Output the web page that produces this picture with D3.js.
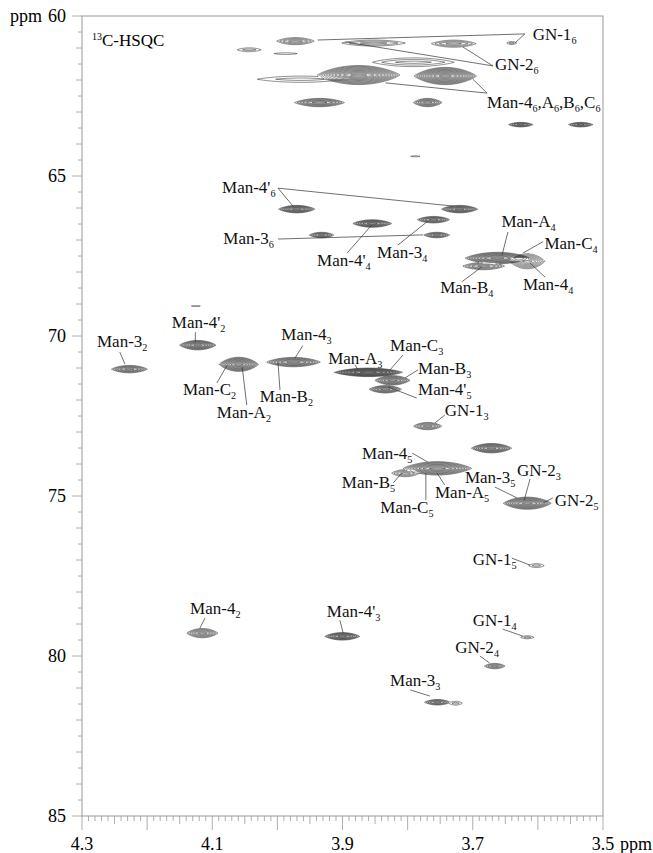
<!DOCTYPE html>
<html>
<head>
<meta charset="utf-8">
<script src="https://cdn.jsdelivr.net/npm/d3@7"></script>
<style>
  body { margin:0; background:#fff; }
</style>
</head>
<body>
<div id="chart"></div>
<script>
// peaks: 1H shift, 13C shift, half width (ppm), half height (ppm), number of contour rings
var peakH     = [4.044,3.988,3.973,3.853,3.730,3.641,3.876,3.743,3.792,3.965,3.936,3.770,3.627,3.535,3.789,
                 3.971,3.721,3.855,3.761,3.933,3.756,3.663,3.617,3.684,4.126,4.123,4.228,4.060,3.976,3.861,
                 3.824,3.835,3.770,3.672,3.755,3.804,3.617,3.603,4.116,3.901,3.617,3.667,3.755,3.727];
var peakC     = [61.05,61.17,60.78,60.84,60.86,60.84,61.84,61.87,61.44,61.97,62.70,62.70,63.39,63.39,64.38,
                 66.03,66.03,66.48,66.36,66.84,66.84,67.56,67.66,67.81,69.06,70.28,71.03,70.88,70.81,71.13,
                 71.38,71.66,72.81,73.50,74.13,74.28,75.22,77.17,79.28,79.38,79.41,80.31,81.44,81.47];
var peakWH    = [0.0215,0.026,0.031,0.054,0.037,0.009,0.065,0.049,0.069,0.077,0.040,0.023,0.020,0.020,0.011,
                 0.029,0.029,0.031,0.026,0.020,0.021,0.051,0.028,0.034,0.011,0.029,0.029,0.031,0.043,0.054,
                 0.028,0.026,0.023,0.032,0.054,0.023,0.038,0.014,0.025,0.028,0.012,0.017,0.021,0.012];
var peakWC    = [0.078,0.047,0.125,0.11,0.125,0.06,0.31,0.28,0.16,0.125,0.14,0.14,0.078,0.078,0.03,
                 0.125,0.125,0.125,0.11,0.094,0.094,0.19,0.25,0.125,0.03,0.156,0.125,0.23,0.156,0.14,
                 0.156,0.125,0.125,0.156,0.22,0.125,0.20,0.078,0.156,0.125,0.06,0.094,0.094,0.078];
var peakRings = [2,1,4,3,4,2,11,11,3,2,6,6,5,5,1,
                 7,7,7,6,5,5,9,7,5,1,8,6,10,7,9,
                 7,6,5,8,9,4,9,2,6,7,2,4,5,2];

// assignments: "_x" = subscript x; position = text start / baseline
var labelText = ["GN-1_6","GN-2_6","Man-4_6,A_6,B_6,C_6","Man-4'_6","Man-3_6","Man-4'_4","Man-3_4","Man-A_4",
                 "Man-C_4","Man-4_4","Man-B_4","Man-4'_2","Man-3_2","Man-C_2","Man-A_2","Man-4_3","Man-B_2",
                 "Man-A_3","Man-C_3","Man-B_3","Man-4'_5","GN-1_3","Man-4_5","Man-B_5","Man-C_5","Man-A_5",
                 "Man-3_5","GN-2_3","GN-2_5","GN-1_5","GN-1_4","Man-4'_3","Man-4_2","GN-2_4","Man-3_3"];
var labelH    = [3.608,3.666,3.678,4.085,4.083,3.939,3.847,3.656,3.590,3.623,3.750,4.162,4.277,4.145,4.093,
                 3.994,4.027,3.922,3.827,3.784,3.784,3.743,3.870,3.901,3.842,3.758,3.712,3.632,3.574,3.700,
                 3.700,3.924,4.134,3.727,3.827];
var labelC    = [60.75,61.69,62.88,65.53,67.13,67.81,67.56,66.60,67.27,68.56,68.66,69.75,70.34,71.84,72.56,
                 70.12,72.06,70.86,70.47,71.19,71.84,72.50,73.84,74.75,75.53,75.06,74.59,74.38,75.31,77.16,
                 79.06,78.78,78.69,79.91,80.94];

// leader lines from label to peak
var leadH1 = [3.620,3.620,3.669,3.669,3.678,3.678,3.999,3.999,3.999,3.893,3.815,3.646,3.592,3.589,3.717,4.126,
              4.242,4.093,4.047,3.961,3.996,3.881,3.807,3.784,3.786,3.743,3.793,3.822,3.772,3.743,3.666,3.612,
              3.577,3.640,3.654,3.904,4.111,3.689,3.796];
var leadC1 = [60.56,60.56,61.56,61.56,62.41,62.41,65.38,65.38,66.97,67.41,67.16,66.75,67.05,68.16,68.31,69.88,
              70.50,71.47,72.16,70.30,71.69,70.90,70.59,71.06,71.94,72.47,73.66,74.59,75.13,74.66,74.72,74.47,
              75.06,76.94,79.16,78.88,78.81,80.00,81.06];
var leadH2 = [3.635,3.938,3.715,3.896,3.700,3.834,3.976,3.730,3.776,3.855,3.769,3.655,3.623,3.612,3.686,4.126,
              4.234,4.077,4.054,3.973,3.999,3.876,3.827,3.804,3.830,3.758,3.769,3.809,3.772,3.755,3.632,3.621,
              3.592,3.612,3.623,3.899,4.119,3.674,3.766];
var leadC2 = [60.84,60.75,60.97,60.81,61.97,62.09,65.94,65.94,66.84,66.53,66.41,67.47,67.41,67.72,67.84,70.19,
              70.88,70.91,70.97,70.69,70.84,71.06,71.06,71.31,71.59,72.72,73.94,74.28,74.28,74.28,75.06,75.13,
              75.22,77.16,79.38,79.28,79.13,80.22,81.25];

var xTickLabels = [4.3,4.1,3.9,3.7,3.5];
var yTickLabels = [60,65,70,75,80,85];

var W = 653, H = 853;
var margin = {top:16, right:50, bottom:37, left:82};
var plotW = W - margin.left - margin.right;
var plotH = H - margin.top - margin.bottom;
var serif = "'Liberation Serif', 'Times New Roman', Times, serif";

var svg = d3.select("#chart").append("svg")
  .attr("width",W).attr("height",H)
  .attr("font-family",serif)
  .style("font-family",serif);

var x = d3.scaleLinear().domain([4.3,3.5]).range([margin.left, margin.left+plotW]);
var y = d3.scaleLinear().domain([60,85]).range([margin.top, margin.top+plotH]);

//......................... contour grid ............................
var nx = 521, ny = 2400;
var stepH = 0.8/(nx-1), stepC = 25/(ny-1);
var grid = new Float64Array(nx*ny);

peakH.forEach(function(h,k){
  var c = peakC[k], wh = peakWH[k], wc = peakWC[k], n = peakRings[k];
  var i0 = Math.max(0, Math.floor((4.3-(h+wh))/stepH)), i1 = Math.min(nx-1, Math.ceil((4.3-(h-wh))/stepH));
  var j0 = Math.max(0, Math.floor((c-wc-60)/stepC)),    j1 = Math.min(ny-1, Math.ceil((c+wc-60)/stepC));
  for (var j=j0;j<=j1;j++){
    var dy = Math.abs((60 + j*stepC) - c)/wc;
    for (var i=i0;i<=i1;i++){
      var dx = ((4.3 - i*stepH) - h)/wh;
      var s = dx*dx + Math.pow(dy,1.15);
      if (s < 1) grid[j*nx+i] += n*(1-s);
    }
  }
});

var thresholds = d3.range(0.5, 26, 1);
var contours = d3.contours().size([nx,ny]).thresholds(thresholds)(grid);

var toPlot = d3.geoTransform({
  point: function(gx,gy){ this.stream.point(x(4.3 - gx*stepH), y(60 + gy*stepC)); }
});
var path = d3.geoPath(toPlot);

svg.append("defs").append("clipPath").attr("id","clip")
  .append("rect").attr("x",margin.left).attr("y",margin.top).attr("width",plotW).attr("height",plotH);

svg.append("g")
  .attr("class","contours")
  .attr("clip-path","url(#clip)")
  .selectAll("path")
  .data(contours)
  .enter()
  .append("path")
  .attr("d",path)
  .attr("fill","none")
  .attr("stroke","#000")
  .attr("stroke-width",0.45);

//......................... leaders + labels ............................
svg.append("g").selectAll("line")
  .data(leadH1)
  .enter()
  .append("line")
  .attr("x1",function(d){return x(d)})
  .attr("y1",function(d,i){return y(leadC1[i])})
  .attr("x2",function(d,i){return x(leadH2[i])})
  .attr("y2",function(d,i){return y(leadC2[i])})
  .attr("stroke","#333")
  .attr("stroke-width",0.7);

function writeLabel(sel, str, size){
  var parts = str.split("_");
  sel.append("tspan").text(parts[0]);
  parts.slice(1).forEach(function(p){
    sel.append("tspan").attr("dy",4).attr("font-size",size*0.6).text(p[0]);
    sel.append("tspan").attr("dy",-4).text(p.slice(1));
  });
}

svg.append("g").selectAll("text")
  .data(labelText)
  .enter()
  .append("text")
  .attr("x",function(d,i){return x(labelH[i])})
  .attr("y",function(d,i){return y(labelC[i])})
  .attr("font-size",17)
  .attr("fill","#111")
  .each(function(d){ writeLabel(d3.select(this), d, 17); });

var title = svg.append("text").attr("x",margin.left+10).attr("y",margin.top+30).attr("font-size",17);
title.append("tspan").attr("font-size",10).attr("dy",-6).text("13");
title.append("tspan").attr("dy",6).text("C-HSQC");

//......................... frame + axes ............................
var axisColor = "#999";
svg.append("rect")
  .attr("x",margin.left).attr("y",margin.top).attr("width",plotW).attr("height",plotH)
  .attr("fill","none").attr("stroke",axisColor).attr("stroke-width",1);

var xt = svg.append("g");
d3.range(0,81).forEach(function(k){
  var v = 4.3 - k*0.01;
  var len = k%10==0 ? 14 : (k%5==0 ? 8 : 5);
  xt.append("line")
    .attr("x1",x(v)).attr("x2",x(v))
    .attr("y1",margin.top+plotH).attr("y2",margin.top+plotH+len)
    .attr("stroke",axisColor).attr("stroke-width",0.8);
});
xt.selectAll("text")
  .data(xTickLabels)
  .enter()
  .append("text")
  .attr("x",function(d){return x(d)})
  .attr("y",H-3)
  .attr("text-anchor","middle")
  .attr("font-size",18)
  .text(function(d){return d3.format(".1f")(d)});
svg.append("text").attr("x",x(3.5)+17).attr("y",H-3).attr("font-size",18).text("ppm");

var yt = svg.append("g");
d3.range(0,51).forEach(function(k){
  var v = 60 + k*0.5;
  var len = k%10==0 ? 10 : (k%2==0 ? 6 : 4);
  yt.append("line")
    .attr("x1",margin.left-len).attr("x2",margin.left)
    .attr("y1",y(v)).attr("y2",y(v))
    .attr("stroke",axisColor).attr("stroke-width",0.8);
});
yt.selectAll("text")
  .data(yTickLabels)
  .enter()
  .append("text")
  .attr("x",margin.left-16)
  .attr("y",function(d){return y(d)})
  .attr("dy","0.32em")
  .attr("text-anchor","end")
  .attr("font-size",18)
  .text(function(d){return d});
svg.append("text").attr("x",margin.left-40).attr("y",y(60)).attr("dy","0.32em")
  .attr("text-anchor","end").attr("font-size",18).text("ppm");
</script>
</body>
</html>
